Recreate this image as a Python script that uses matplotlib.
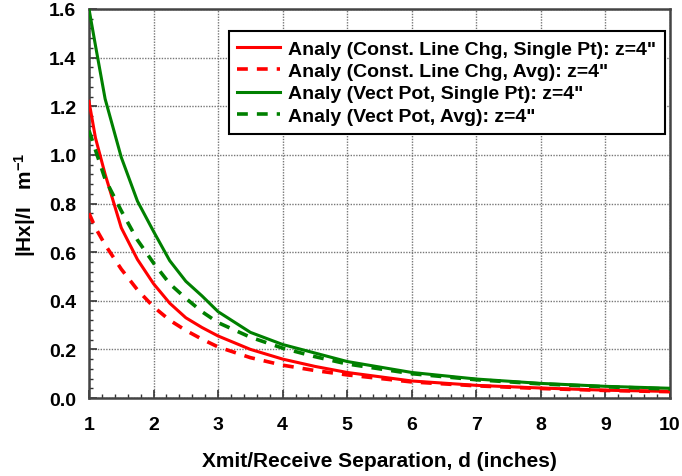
import matplotlib
matplotlib.use("Agg")
import matplotlib.pyplot as plt
from matplotlib.ticker import MultipleLocator, FormatStrFormatter

plt.rcParams['font.family'] = ['Liberation Sans', 'DejaVu Sans']
plt.rcParams['mathtext.fontset'] = 'custom'
plt.rcParams['mathtext.rm'] = 'Liberation Sans:bold'
plt.rcParams['mathtext.it'] = 'Liberation Sans:bold'
plt.rcParams['mathtext.bf'] = 'Liberation Sans:bold'

d = [1.0, 1.1, 1.25, 1.5, 1.75, 2.0, 2.25, 2.5, 2.75, 3.0, 3.5, 4.0, 4.5, 5.0, 6.0, 7.0, 8.0, 9.0, 10.0]
line_single = [1.22, 1.07, 0.92, 0.70, 0.57, 0.47, 0.39, 0.33, 0.29, 0.255, 0.20, 0.16, 0.13, 0.105, 0.07, 0.052, 0.041, 0.032, 0.027]
line_avg = [0.76, 0.70, 0.63, 0.53, 0.445, 0.375, 0.32, 0.278, 0.242, 0.21, 0.166, 0.135, 0.113, 0.095, 0.066, 0.05, 0.039, 0.031, 0.026]
vect_single = [1.60, 1.45, 1.23, 0.99, 0.81, 0.685, 0.565, 0.48, 0.42, 0.355, 0.27, 0.22, 0.185, 0.15, 0.105, 0.078, 0.06, 0.048, 0.04]
vect_avg = [1.10, 1.02, 0.90, 0.77, 0.65, 0.555, 0.47, 0.41, 0.355, 0.31, 0.25, 0.205, 0.17, 0.14, 0.10, 0.075, 0.058, 0.046, 0.037]

labels = ['Analy (Const. Line Chg, Single Pt): z=4"',
          'Analy (Const. Line Chg, Avg): z=4"',
          'Analy (Vect Pot, Single Pt): z=4"',
          'Analy (Vect Pot, Avg): z=4"']

fig = plt.figure(figsize=(6.82, 4.77), dpi=100)
ax = fig.add_axes([89/682, 1-399/477, (670-89)/682, (399-10)/477])

red = '#ff0000'
green = '#008000'
ax.plot(d, line_single, color=red, lw=2.2, label=labels[0], zorder=5)
ax.plot(d, line_avg, color=red, lw=2.6, ls=(0, (3, 2.5)), label=labels[1], zorder=5)
ax.plot(d, vect_single, color=green, lw=2.2, label=labels[2], zorder=5)
ax.plot(d, vect_avg, color=green, lw=2.6, ls=(0, (3, 2.5)), label=labels[3], zorder=5)

ax.set_xlim(1, 10)
ax.set_ylim(0, 1.6)
ax.xaxis.set_major_locator(MultipleLocator(1))
ax.xaxis.set_minor_locator(MultipleLocator(0.2))
ax.yaxis.set_major_locator(MultipleLocator(0.2))
ax.yaxis.set_minor_locator(MultipleLocator(0.04))
ax.yaxis.set_major_formatter(FormatStrFormatter('%.1f'))

ax.tick_params(which='both', direction='in', top=False, right=False, color='#333333')
ax.tick_params(which='major', length=6, width=1.2, labelsize=14)
ax.tick_params(axis='x', which='major', pad=13)
ax.tick_params(axis='y', which='major', pad=9)
ax.tick_params(which='minor', length=3, width=1)
for lab in ax.get_xticklabels() + ax.get_yticklabels():
    lab.set_fontweight('bold')

ax.grid(True, which='major', color='#777777', ls=(0, (1, 1)), lw=1.0)
for s in ax.spines.values():
    s.set_color('#444444')
    s.set_linewidth(1.8)

ax.set_xlabel('Xmit/Receive Separation, d (inches)', fontsize=15, fontweight='bold', labelpad=13)
ax.set_ylabel(r'|Hx|/I   m$^{\mathbf{-1}}$', fontsize=15, fontweight='bold', labelpad=8)

leg = ax.legend(loc='upper right', bbox_to_anchor=(0.991, 0.943), frameon=True, fancybox=False,
                edgecolor='black', prop={'weight': 'bold', 'size': 14}, handlelength=2.2,
                handletextpad=0.4, borderpad=0.45, labelspacing=0.25, borderaxespad=0,
                framealpha=1)
leg.get_frame().set_linewidth(1.5)
leg.set_zorder(10)

fig.savefig('out.png', dpi=100)
